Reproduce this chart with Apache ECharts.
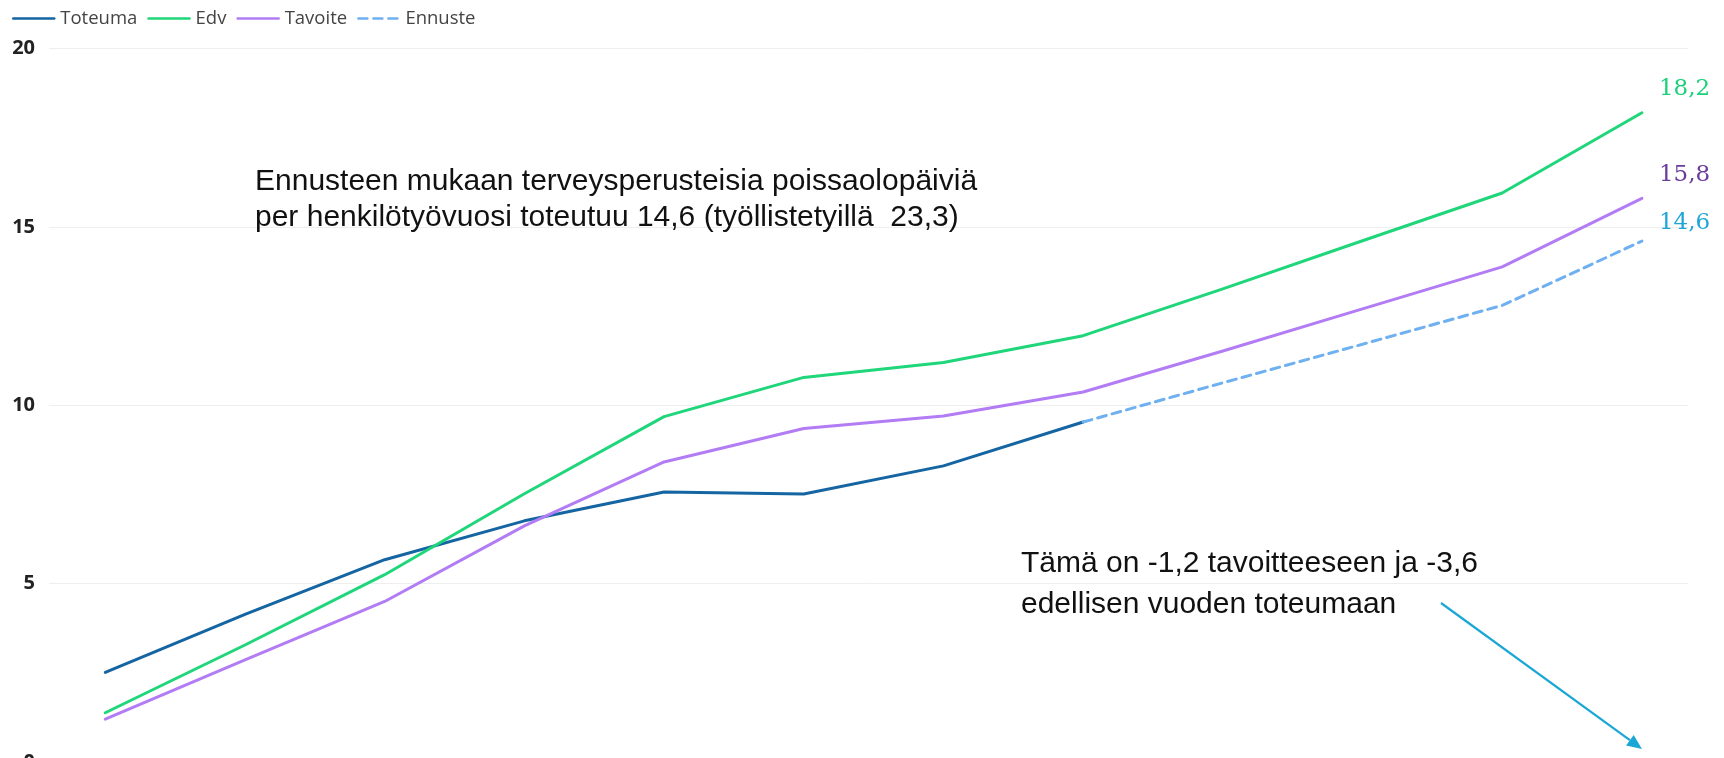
<!DOCTYPE html>
<html>
<head>
<meta charset="utf-8">
<script src="https://cdn.jsdelivr.net/npm/echarts@6/dist/echarts.min.js"></script>
<style>
  html, body { margin: 0; padding: 0; background: #ffffff; }
  #chart { width: 1724px; height: 758px; }
</style>
</head>
<body>
<div id="chart"></div>
<script>
// ---- Data ----
const months = ['Tammi', 'Helmi', 'Maalis', 'Huhti', 'Touko', 'Kesä', 'Heinä', 'Elo', 'Syys', 'Loka', 'Marras', 'Joulu'];
const toteuma = [2.51, 4.14, 5.67, 6.76, 7.57, 7.51, 8.30, 9.53, null, null, null, null];
const edv     = [1.38, 3.28, 5.25, 7.52, 9.68, 10.78, 11.20, 11.95, 13.26, 14.61, 15.95, 18.2];
const tavoite = [1.20, 2.86, 4.50, 6.62, 8.41, 9.35, 9.70, 10.37, 11.52, 12.70, 13.88, 15.8];
const ennuste = [null, null, null, null, null, null, null, 9.53, 10.63, 11.71, 12.80, 14.6];
const yTicks = [0, 5, 10, 15, 20];

const seriesNames = ['Toteuma', 'Edv', 'Tavoite', 'Ennuste'];
const colors = ['#1565A2', '#1FD67A', '#B27CF4', '#6EB0F0'];
const labelColors = [null, '#1ED07A', '#6A3C9C', '#1FA6D8'];
const labelLift = [0, -24, -23, -18];

const noteLines1 = [
  'Ennusteen mukaan terveysperusteisia poissaolopäiviä',
  'per henkilötyövuosi toteutuu 14,6 (työllistetyillä  23,3)'
];
const noteLines2 = [
  'Tämä on -1,2 tavoitteeseen ja -3,6',
  'edellisen vuoden toteumaan'
];

function pairs(arr) {
  return arr.map((v, i) => [i, v]);
}

function fmt(v) {
  return String(v).replace('.', ',');
}

const allData = [toteuma, edv, tavoite, ennuste];

const series = allData.map((arr, k) => {
  const lastVal = arr[arr.length - 1];
  const s = {
    name: seriesNames[k],
    type: 'line',
    data: pairs(arr),
    symbol: 'none',
    showSymbol: false,
    smooth: false,
    connectNulls: false,
    lineStyle: {
      color: colors[k],
      width: 3,
      type: k === 3 ? [9, 6] : 'solid',
      cap: 'round'
    },
    itemStyle: { color: colors[k] },
    z: k === 3 ? 3 : 2
  };
  if (labelColors[k] && lastVal != null) {
    s.endLabel = {
      show: true,
      formatter: fmt(lastVal),
      color: labelColors[k],
      fontFamily: 'DejaVu Serif',
      fontSize: 23,
      distance: 17,
      offset: [0, labelLift[k]],
      align: 'left',
      verticalAlign: 'middle'
    };
  }
  return s;
});

const chart = echarts.init(document.getElementById('chart'), null, { renderer: 'canvas' });

const noteFont = '30px "Liberation Sans", Arial, sans-serif';

const tip = [1642, 749];
const start = [1441, 603];
const dx = tip[0] - start[0], dy = tip[1] - start[1];
const len = Math.sqrt(dx * dx + dy * dy);
const ux = dx / len, uy = dy / len;
const headL = 15, headW = 6.5;
const base = [tip[0] - ux * headL, tip[1] - uy * headL];

const option = {
  backgroundColor: '#ffffff',
  animation: false,
  color: colors,
  legend: {
    data: seriesNames,
    left: 7,
    top: 4,
    itemWidth: 41,
    itemHeight: 18,
    itemGap: 10,
    itemStyle: { opacity: 0, borderWidth: 0 },
    lineStyle: { width: 2.5 },
    textStyle: {
      fontFamily: '"Open Sans", sans-serif',
      fontSize: 18.5,
      color: '#444444',
      padding: [0, 0, 0, 1]
    }
  },
  grid: {
    left: 49,
    right: 36,
    top: 48.5,
    height: 713.5,
    containLabel: false,
    outerBoundsMode: 'none'
  },
  xAxis: {
    type: 'value',
    min: -0.403,
    max: 11.33,
    show: false,
    splitLine: { show: false }
  },
  yAxis: {
    type: 'value',
    min: yTicks[0],
    max: yTicks[yTicks.length - 1],
    interval: yTicks[1] - yTicks[0],
    axisLine: { show: false },
    axisTick: { show: false },
    axisLabel: {
      margin: 14,
      fontFamily: '"Open Sans", sans-serif',
      fontWeight: 'bold',
      fontSize: 20,
      color: '#222222'
    },
    splitLine: { lineStyle: { color: '#EEEEEE', width: 1 } }
  },
  series: series,
  graphic: [
    {
      type: 'text', x: 255, y: 182, z: 10,
      style: { text: noteLines1[0], font: noteFont, fill: '#111111', verticalAlign: 'middle' }
    },
    {
      type: 'text', x: 255, y: 218, z: 10,
      style: { text: noteLines1[1], font: noteFont, fill: '#111111', verticalAlign: 'middle' }
    },
    {
      type: 'text', x: 1021, y: 564, z: 10,
      style: { text: noteLines2[0], font: noteFont, fill: '#111111', verticalAlign: 'middle' }
    },
    {
      type: 'text', x: 1021, y: 605, z: 10,
      style: { text: noteLines2[1], font: noteFont, fill: '#111111', verticalAlign: 'middle' }
    },
    {
      type: 'line', z: 10,
      shape: { x1: start[0], y1: start[1], x2: base[0], y2: base[1] },
      style: { stroke: '#1BA7D6', lineWidth: 2.2 }
    },
    {
      type: 'polygon', z: 10,
      shape: {
        points: [
          tip,
          [base[0] - uy * headW, base[1] + ux * headW],
          [base[0] + uy * headW, base[1] - ux * headW]
        ]
      },
      style: { fill: '#1BA7D6' }
    }
  ]
};

chart.setOption(option);
</script>
</body>
</html>
